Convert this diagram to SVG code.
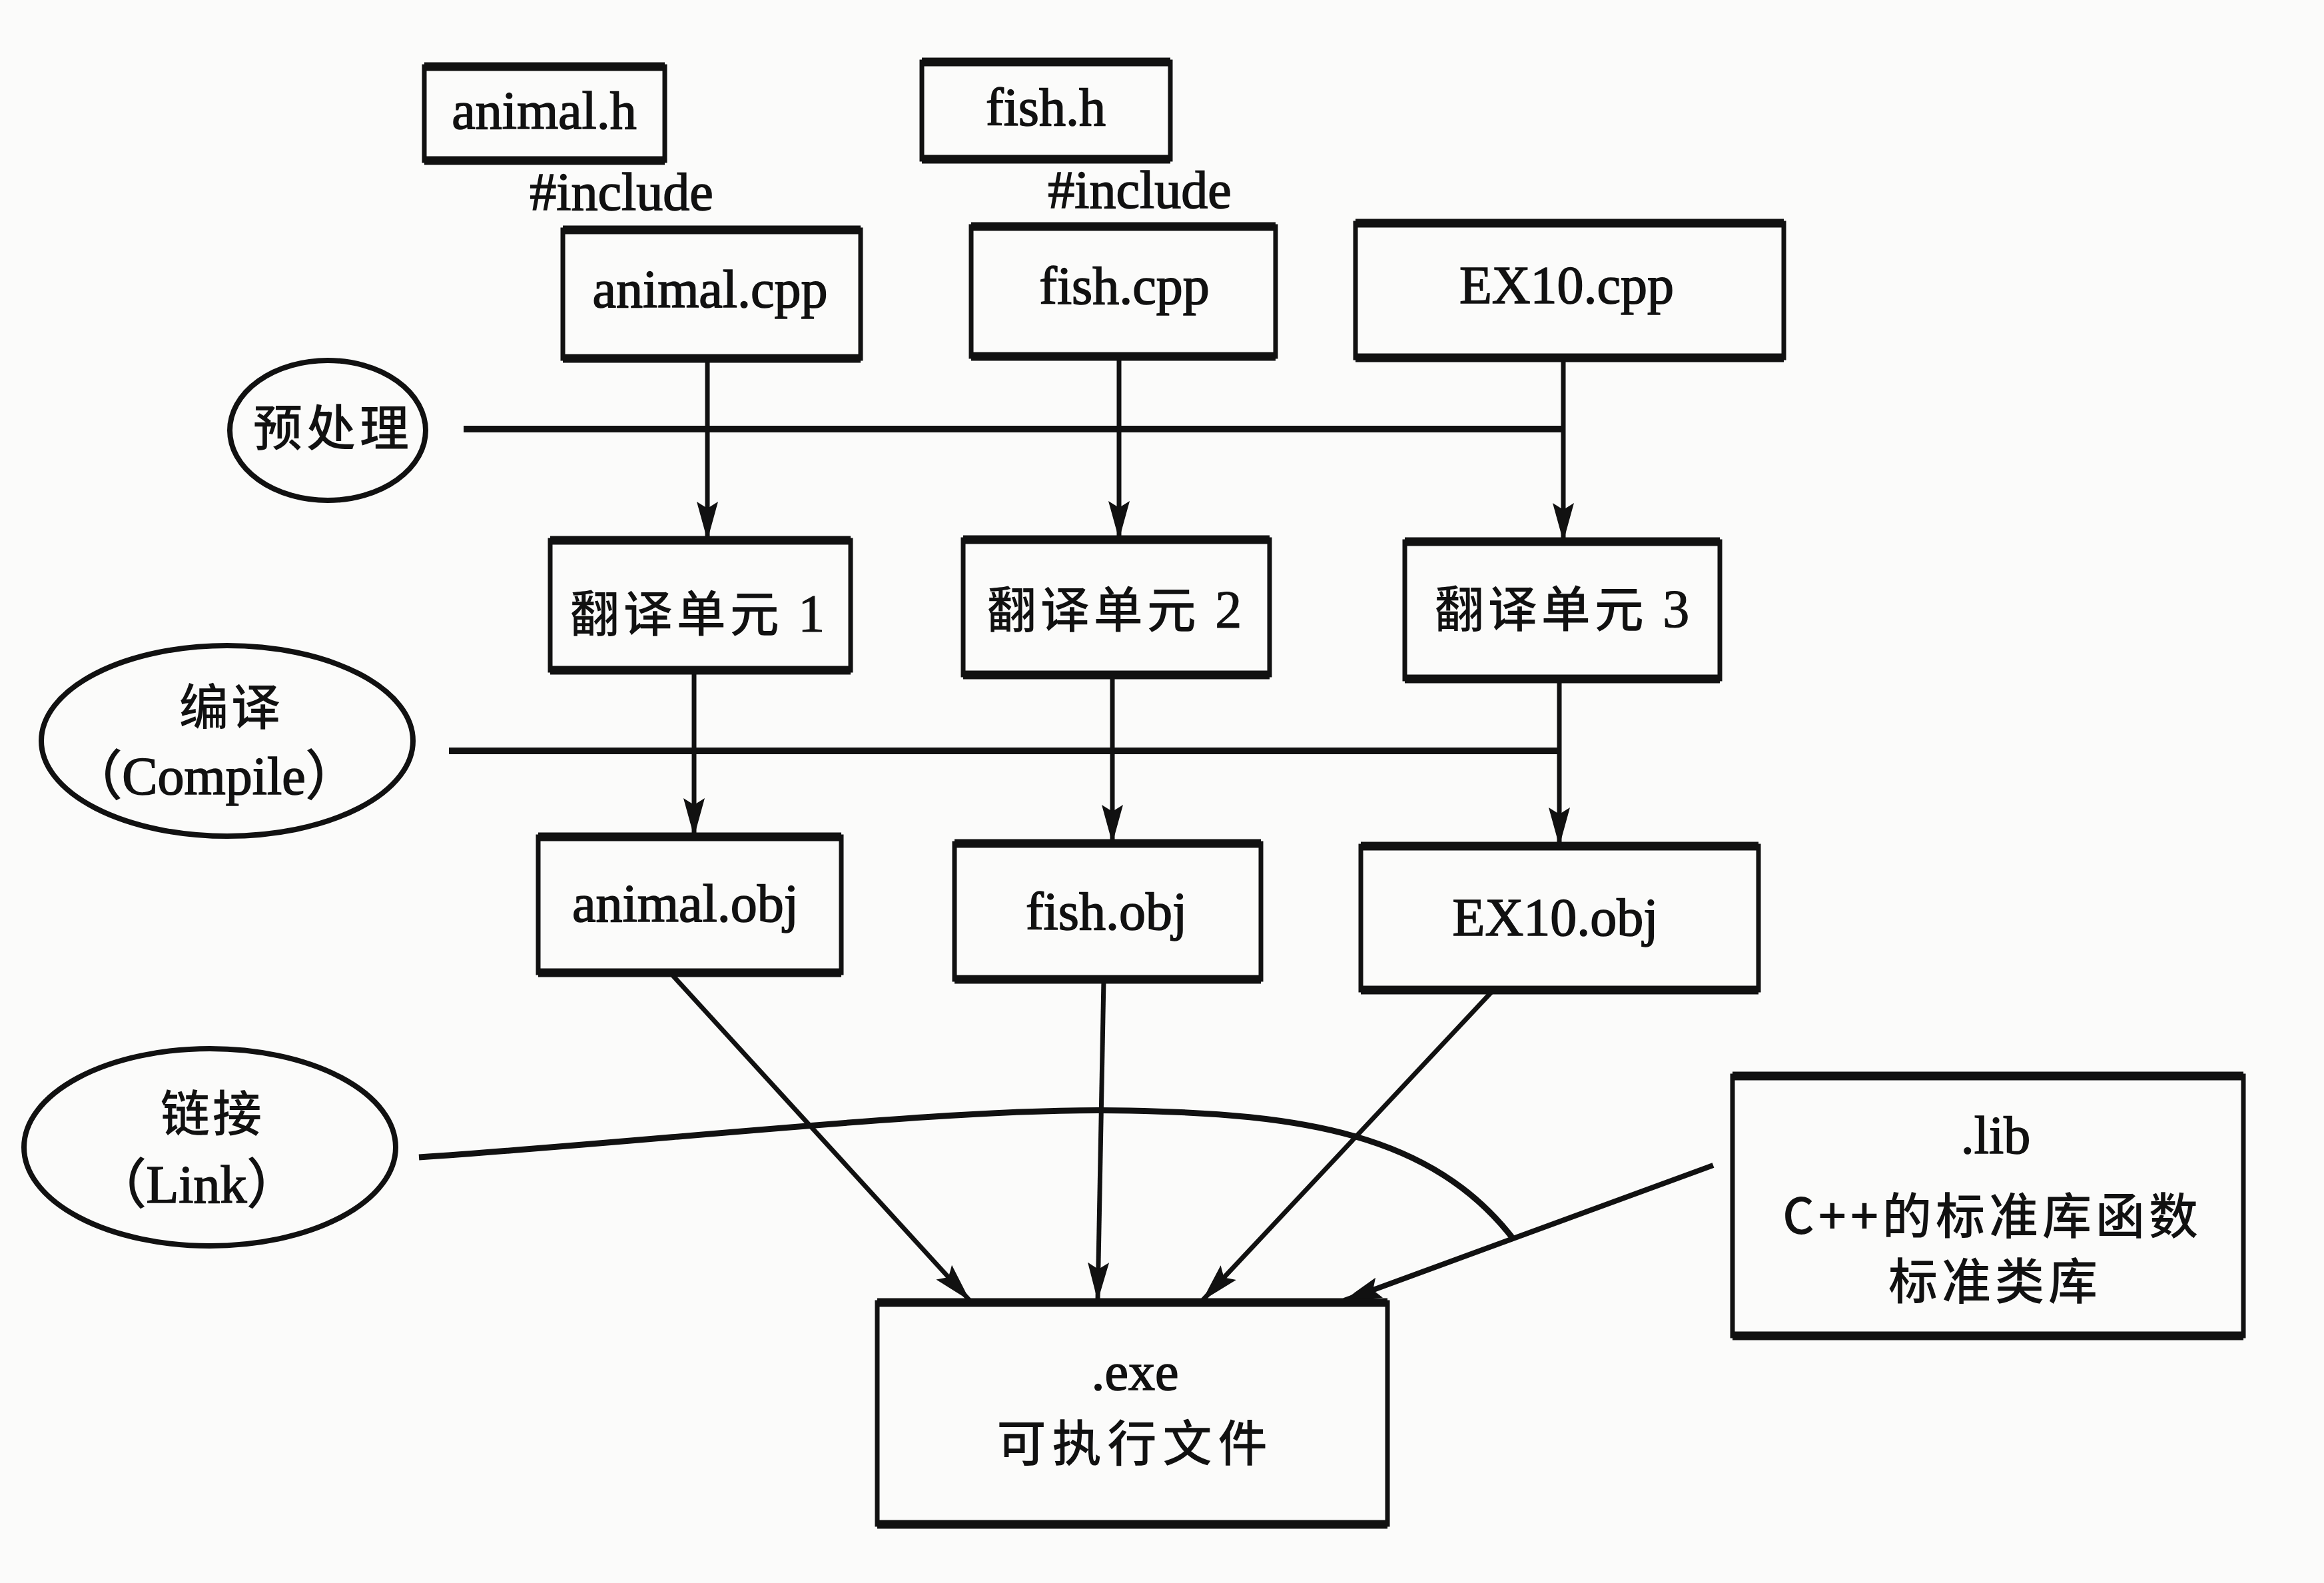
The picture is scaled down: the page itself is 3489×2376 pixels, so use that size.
<svg xmlns="http://www.w3.org/2000/svg" width="3489" height="2376" viewBox="0 0 3489 2376">
<style>
.bg{fill:#fbfbfa}
.box{fill:none;stroke:#111;stroke-width:7}
.edge{fill:none;stroke:#111;stroke-width:13}
.ell{fill:none;stroke:#111;stroke-width:8}
.en{font-family:"Liberation Serif","Noto Sans CJK SC",serif;font-size:80px;fill:#111;stroke:#111;stroke-width:1.6;text-anchor:middle}
.cn{font-family:"Noto Sans CJK SC","Noto Sans CJK JP",sans-serif;font-size:74px;font-weight:500;fill:#111;text-anchor:middle}
.dg{font-family:"Liberation Serif",serif;font-size:80px;font-weight:normal;stroke:#111;stroke-width:1.2}
.v{fill:none;stroke:#111;stroke-width:7}
.h{fill:none;stroke:#111;stroke-width:10}
</style>
<defs>
<marker id="arr" markerUnits="userSpaceOnUse" markerWidth="58" markerHeight="32" refX="56" refY="16" orient="auto">
<path d="M0,0 L58,16 L0,32 L10,16 z" fill="#111"/>
</marker>
</defs>
<rect class="bg" x="0" y="0" width="3489" height="2376"/>

<g id="connectors">
<line class="h" x1="696" y1="644" x2="2347" y2="644"/>
<line class="h" x1="674" y1="1127" x2="2341" y2="1127"/>
<line class="v" x1="1062" y1="538" x2="1062" y2="809" marker-end="url(#arr)"/>
<line class="v" x1="1680" y1="535" x2="1680" y2="808" marker-end="url(#arr)"/>
<line class="v" x1="2347" y1="537" x2="2347" y2="811" marker-end="url(#arr)"/>
<line class="v" x1="1042" y1="1006" x2="1042" y2="1254" marker-end="url(#arr)"/>
<line class="v" x1="1670" y1="1013" x2="1670" y2="1264" marker-end="url(#arr)"/>
<line class="v" x1="2341" y1="1019" x2="2341" y2="1268" marker-end="url(#arr)"/>
<line class="v" x1="1008" y1="1462" x2="1455" y2="1951" marker-end="url(#arr)"/>
<line class="v" x1="1657" y1="1470" x2="1648" y2="1951" marker-end="url(#arr)"/>
<line class="v" x1="2242" y1="1486" x2="1806" y2="1951" marker-end="url(#arr)"/>
<line class="v" style="stroke-width:8" x1="2572" y1="1749" x2="2018" y2="1952" marker-end="url(#arr)"/>
<path class="h" style="stroke-width:9" d="M629,1737 C1000,1712 1450,1660 1696,1667 C1950,1672 2150,1700 2273,1861"/>
</g>

<g id="animal_h">
<rect class="box" x="637" y="100" width="361" height="141"/>
<path class="edge" d="M637,100 H998 M637,241 H998"/>
<text class="en" x="817" y="193">animal.h</text>
</g>
<g id="fish_h">
<rect class="box" x="1384" y="93" width="373" height="146"/>
<path class="edge" d="M1384,93 H1757 M1384,239 H1757"/>
<text class="en" x="1570" y="188">fish.h</text>
</g>
<g id="include1"><text class="en" x="933" y="315">#include</text></g>
<g id="include2"><text class="en" x="1711" y="312">#include</text></g>

<g id="animal_cpp">
<rect class="box" x="845" y="345" width="447" height="193"/>
<path class="edge" d="M845,345 H1292 M845,538 H1292"/>
<text class="en" x="1066" y="461">animal.cpp</text>
</g>
<g id="fish_cpp">
<rect class="box" x="1458" y="340" width="457" height="195"/>
<path class="edge" d="M1458,340 H1915 M1458,535 H1915"/>
<text class="en" x="1688" y="456">fish.cpp</text>
</g>
<g id="ex10_cpp">
<rect class="box" x="2035" y="335" width="643" height="202"/>
<path class="edge" d="M2035,335 H2678 M2035,537 H2678"/>
<text class="en" x="2352" y="455">EX10.cpp</text>
</g>

<g id="preprocess">
<ellipse class="ell" cx="492" cy="646" rx="147" ry="105"/>
<text class="cn" x="500" y="669" letter-spacing="6">预处理</text>
</g>

<g id="unit1">
<rect class="box" x="826" y="811" width="451" height="195"/>
<path class="edge" d="M826,811 H1277 M826,1006 H1277"/>
<text class="cn" x="1050" y="948" letter-spacing="6">翻译单元 <tspan class="dg">1</tspan></text>
</g>
<g id="unit2">
<rect class="box" x="1446" y="810" width="460" height="203"/>
<path class="edge" d="M1446,810 H1906 M1446,1013 H1906"/>
<text class="cn" x="1676" y="942" letter-spacing="6">翻译单元 <tspan class="dg">2</tspan></text>
</g>
<g id="unit3">
<rect class="box" x="2109" y="813" width="473" height="206"/>
<path class="edge" d="M2109,813 H2582 M2109,1019 H2582"/>
<text class="cn" x="2348" y="941" letter-spacing="6">翻译单元 <tspan class="dg">3</tspan></text>
</g>

<g id="compile">
<ellipse class="ell" cx="341" cy="1112" rx="279" ry="143"/>
<text class="cn" x="347" y="1088" letter-spacing="4">编译</text>
<text class="en" x="321" y="1192">（Compile）</text>
</g>

<g id="animal_obj">
<rect class="box" x="808" y="1256" width="455" height="204"/>
<path class="edge" d="M808,1256 H1263 M808,1460 H1263"/>
<text class="en" x="1029" y="1383">animal.obj</text>
</g>
<g id="fish_obj">
<rect class="box" x="1433" y="1266" width="460" height="204"/>
<path class="edge" d="M1433,1266 H1893 M1433,1470 H1893"/>
<text class="en" x="1661" y="1395">fish.obj</text>
</g>
<g id="ex10_obj">
<rect class="box" x="2043" y="1270" width="597" height="216"/>
<path class="edge" d="M2043,1270 H2640 M2043,1486 H2640"/>
<text class="en" x="2335" y="1404">EX10.obj</text>
</g>

<g id="link">
<ellipse class="ell" cx="315" cy="1722" rx="279" ry="148"/>
<text class="cn" x="319" y="1698" letter-spacing="4">链接</text>
<text class="en" x="295" y="1805">（Link）</text>
</g>

<g id="exe">
<rect class="box" x="1317" y="1955" width="766" height="333"/>
<path class="edge" d="M1317,1955 H2083 M1317,2288 H2083"/>
<text class="en" x="1704" y="2086">.exe</text>
<text class="cn" x="1704" y="2193" letter-spacing="9">可执行文件</text>
</g>

<g id="lib">
<rect class="box" x="2601" y="1615" width="767" height="390"/>
<path class="edge" d="M2601,1615 H3368 M2601,2005 H3368"/>
<text class="en" x="2996" y="1731">.lib</text>
<text class="cn" x="2991" y="1852" letter-spacing="6">C++的标准库函数</text>
<text class="cn" x="2995" y="1950" letter-spacing="6">标准类库</text>
</g>
</svg>
